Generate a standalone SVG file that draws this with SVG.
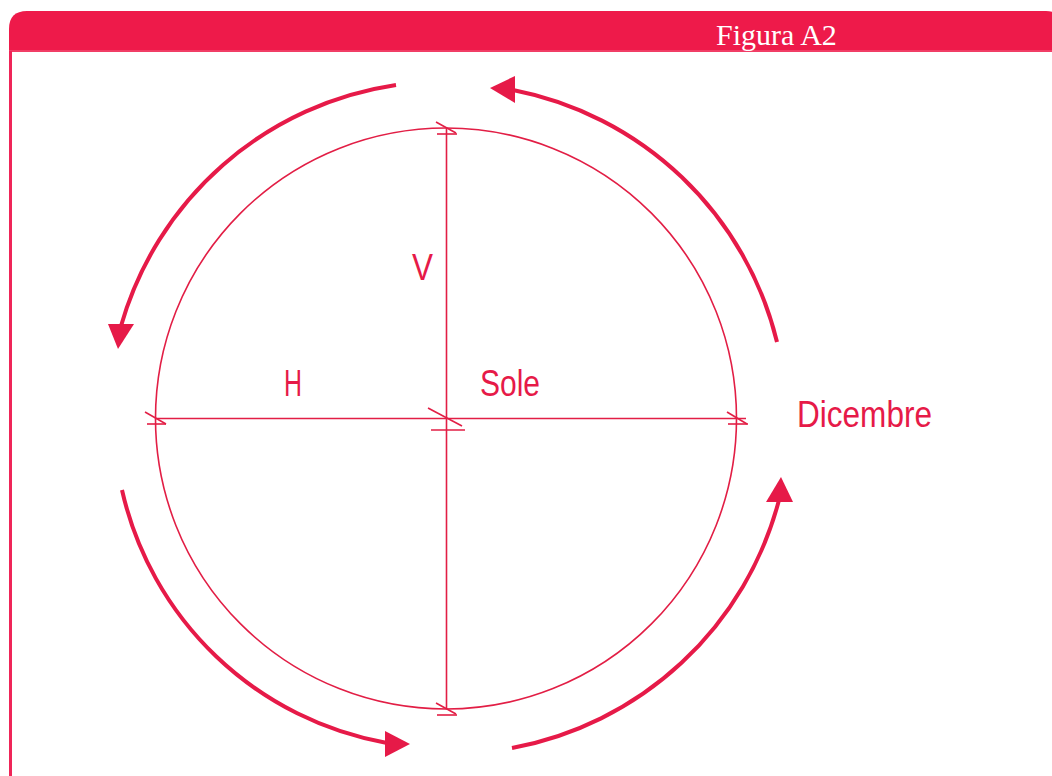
<svg xmlns="http://www.w3.org/2000/svg" width="1052" height="776" viewBox="0 0 1052 776">
  <style>
    .hdr { fill: #EE1A4A; }
    .geo { fill: none; stroke: #E21E45; stroke-width: 1.6; }
    .arc { fill: none; stroke: #E61A48; stroke-width: 4; }
    .head { fill: #E61A48; }
    .lbl { fill: #E61A48; font-family: "Liberation Sans", Arial, sans-serif; font-size: 36px; }
    .title { fill: #ffffff; font-family: "Liberation Serif", "Times New Roman", serif; font-size: 30px; }
  </style>
  <rect width="1052" height="776" fill="#ffffff"/>

  <g id="frame">
    <path class="hdr" d="M9,52 L9,29 Q9,11 27,11 L1046,11 Q1062,11 1062,27 L1062,52 Z"/>
    <line x1="9" y1="51" x2="1052" y2="51" stroke="#F24A70" stroke-width="1.5"/>
    <line x1="10.5" y1="51" x2="10.5" y2="776" stroke="#EF2558" stroke-width="3"/>
    <text class="title" x="716" y="45">Figura A2</text>
  </g>

  <g id="sun-circle">
    <circle class="geo" cx="446" cy="418.5" r="290.5"/>
    <line class="geo" x1="446.5" y1="128" x2="446.5" y2="709"/>
    <line class="geo" x1="156" y1="418.5" x2="746" y2="418.5"/>
    <line class="geo" x1="436" y1="122" x2="456" y2="133"/>
    <line class="geo" x1="437" y1="134" x2="457" y2="134"/>
    <line class="geo" x1="436" y1="703" x2="456" y2="714"/>
    <line class="geo" x1="437" y1="715" x2="457" y2="715"/>
    <line class="geo" x1="145" y1="412" x2="166" y2="424"/>
    <line class="geo" x1="147" y1="424" x2="166" y2="424"/>
    <line class="geo" x1="727" y1="412" x2="747" y2="424"/>
    <line class="geo" x1="728" y1="424" x2="748" y2="424"/>
    <line class="geo" x1="428" y1="408" x2="462" y2="426"/>
    <line class="geo" x1="431" y1="430" x2="465" y2="430"/>
  </g>

  <g id="labels">
    <text class="lbl" x="412" y="280" textLength="21" lengthAdjust="spacingAndGlyphs">V</text>
    <text class="lbl" x="284" y="396" textLength="18" lengthAdjust="spacingAndGlyphs">H</text>
    <text class="lbl" x="480" y="396" textLength="60" lengthAdjust="spacingAndGlyphs">Sole</text>
    <text class="lbl" x="797" y="427" textLength="135" lengthAdjust="spacingAndGlyphs">Dicembre</text>
  </g>

  <g id="connectors">
    <path class="arc" d="M396,85 A337,337 0 0 0 121,326"/>
    <polygon class="head" points="108,324 134,324 118,349"/>
    <path class="arc" d="M777,342 A338,338 0 0 0 513,90"/>
    <polygon class="head" points="515,76 515,103 490,88"/>
    <path class="arc" d="M512,748 A340,340 0 0 0 779,500"/>
    <polygon class="head" points="766,502 793,502 781,477"/>
    <path class="arc" d="M122,490 A331,331 0 0 0 387,743"/>
    <polygon class="head" points="385,731 385,757 410,744"/>
  </g>
</svg>
